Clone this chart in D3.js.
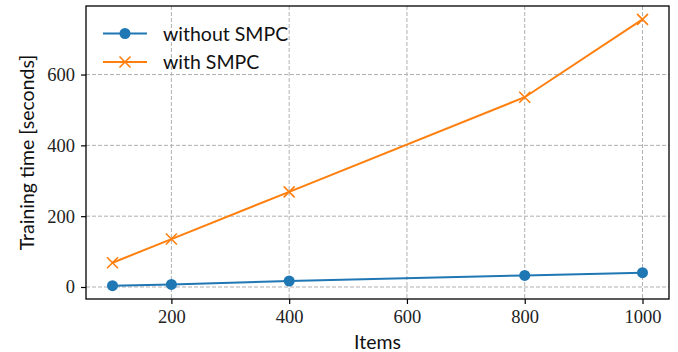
<!DOCTYPE html>
<html>
<head>
<meta charset="utf-8">
<script src="https://cdn.jsdelivr.net/npm/d3@7"></script>
<style>
  html, body { margin: 0; padding: 0; background: #fff; }
  svg { display: block; }
</style>
</head>
<body>
<svg id="chart" width="678" height="352"></svg>
<script>
// Training time vs. number of items
const items = [100, 200, 400, 800, 1000];
const withoutSMPC = [3.7, 7.3, 16.9, 32.7, 40.3];
const withSMPC = [68.5, 135.4, 268.8, 536, 756];
const xTicks = [200, 400, 600, 800, 1000];
const yTicks = [0, 200, 400, 600];
const seriesNames = ["without SMPC", "with SMPC"];
const seriesColors = ["#1f77b4", "#ff7f0e"];

const svg = d3.select("#chart");
const margin = { left: 86, right: 9, top: 6, bottom: 53 };
const W = 678, H = 352;

const x = d3.scaleLinear().domain([55, 1045]).range([margin.left, W - margin.right]);
const y = d3.scaleLinear().domain([-33.9, 793.6]).range([H - margin.bottom, margin.top]);

const serif = "'Liberation Serif', 'DejaVu Serif', serif";
const sans = "Lato, 'DejaVu Sans', sans-serif";

// grid
const grid = svg.append("g").attr("stroke", "#b0b0b0").attr("stroke-width", 1)
  .attr("stroke-dasharray", "4,2");
grid.selectAll("line.gx").data(xTicks).join("line")
  .attr("x1", d => x(d)).attr("x2", d => x(d))
  .attr("y1", y.range()[1]).attr("y2", y.range()[0]);
grid.selectAll("line.gy").data(yTicks).join("line")
  .attr("y1", d => y(d)).attr("y2", d => y(d))
  .attr("x1", x.range()[0]).attr("x2", x.range()[1]);

// axes
const xAxis = svg.append("g")
  .attr("transform", `translate(0,${H - margin.bottom})`)
  .call(d3.axisBottom(x).tickValues(xTicks).tickSize(5).tickPadding(6).tickFormat(d3.format("d")));
const yAxis = svg.append("g")
  .attr("transform", `translate(${margin.left},0)`)
  .call(d3.axisLeft(y).tickValues(yTicks).tickSize(5).tickPadding(6).tickFormat(d3.format("d")));
[xAxis, yAxis].forEach(a => {
  a.attr("font-family", serif).attr("font-size", 18.5);
  a.select(".domain").remove();
  a.selectAll(".tick line").attr("stroke", "#000").attr("stroke-width", 1.2);
  a.selectAll(".tick text").attr("fill", "#222");
});

// frame
svg.append("rect")
  .attr("x", x.range()[0]).attr("y", y.range()[1])
  .attr("width", x.range()[1] - x.range()[0])
  .attr("height", y.range()[0] - y.range()[1])
  .attr("fill", "none").attr("stroke", "#000").attr("stroke-width", 1.3);

// series
const line = d3.line().x(d => x(d[0])).y(d => y(d[1]));
const dataSets = [withoutSMPC, withSMPC].map(vals => items.map((it, i) => [it, vals[i]]));

dataSets.forEach((pts, si) => {
  svg.append("path").datum(pts)
    .attr("fill", "none").attr("stroke", seriesColors[si]).attr("stroke-width", 2)
    .attr("d", line);
});

function drawMarker(g, si, cx, cy) {
  if (si === 0) {
    g.append("circle").attr("cx", cx).attr("cy", cy).attr("r", 5.5)
      .attr("fill", seriesColors[0]);
  } else {
    const s = 5.5;
    g.append("path")
      .attr("d", `M${cx - s},${cy - s}L${cx + s},${cy + s}M${cx - s},${cy + s}L${cx + s},${cy - s}`)
      .attr("stroke", seriesColors[1]).attr("stroke-width", 1.6).attr("fill", "none");
  }
}

dataSets.forEach((pts, si) => {
  const g = svg.append("g");
  pts.forEach(p => drawMarker(g, si, x(p[0]), y(p[1])));
});

// legend
const legend = svg.append("g");
seriesNames.forEach((name, i) => {
  const ly = 33.5 + i * 28.5;
  legend.append("line").attr("x1", 103).attr("x2", 147).attr("y1", ly).attr("y2", ly)
    .attr("stroke", seriesColors[i]).attr("stroke-width", 2);
  drawMarker(legend, i, 125, ly);
  legend.append("text").attr("x", 163).attr("y", ly).attr("dy", "0.36em")
    .style("font-family", sans).style("font-size", "19.5px").attr("fill", "#111")
    .text(name);
});

// axis labels
svg.append("text")
  .attr("x", (x.range()[0] + x.range()[1]) / 2).attr("y", 342).attr("dy", "0.36em")
  .attr("text-anchor", "middle").attr("fill", "#111")
  .style("font-family", sans).style("font-size", "19.5px").text("Items");
svg.append("text")
  .attr("transform", `translate(27,${(y.range()[0] + y.range()[1]) / 2}) rotate(-90)`)
  .attr("dy", "0.36em").attr("text-anchor", "middle").attr("fill", "#111")
  .style("font-family", sans).style("font-size", "19.5px").text("Training time [seconds]");
</script>
</body>
</html>
